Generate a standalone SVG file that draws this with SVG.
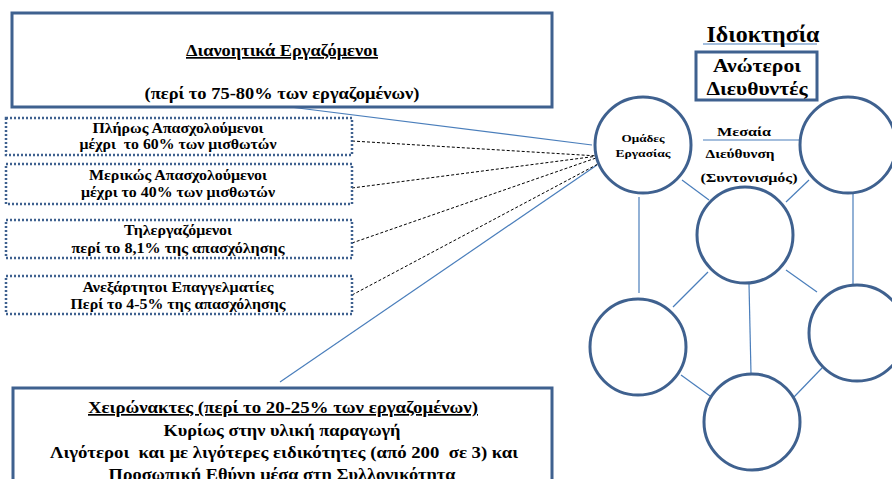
<svg xmlns="http://www.w3.org/2000/svg" width="892" height="479" viewBox="0 0 892 479">
<style>
text{font-family:"Liberation Serif","Times New Roman",serif;font-weight:bold;fill:#000;text-anchor:middle;white-space:pre}
.box{fill:#fff;stroke:#3f618f;stroke-width:3}
.dot{fill:#fff;stroke:#3f618f;stroke-width:2.5;stroke-dasharray:2 2}
.circ{fill:#fff;stroke:#3f618f;stroke-width:3}
.thin{stroke:#4a7ebb;stroke-width:1.2;fill:none}
.dash{stroke:#000;stroke-width:1;stroke-dasharray:3 2;fill:none}
.u{text-decoration:underline}
</style>
<g id="connectors">
<line class="thin" x1="290" y1="107" x2="592" y2="145"/>
<line class="thin" x1="280" y1="382" x2="597" y2="165"/>
<line class="dash" x1="352" y1="141" x2="598" y2="156"/>
<line class="dash" x1="352" y1="188" x2="598" y2="156"/>
<line class="dash" x1="352" y1="243" x2="596" y2="158"/>
<line class="dash" x1="352" y1="295" x2="598" y2="164"/>
<line class="thin" x1="703" y1="44" x2="817" y2="44"/>
<line class="thin" x1="703" y1="140" x2="801" y2="140"/>
<line class="thin" x1="639" y1="197" x2="639" y2="293"/>
<line class="thin" x1="682" y1="180" x2="709" y2="200"/>
<line class="thin" x1="786" y1="202" x2="809" y2="180"/>
<line class="thin" x1="853" y1="194" x2="853" y2="285"/>
<line class="thin" x1="708" y1="272" x2="673" y2="307"/>
<line class="thin" x1="786" y1="270" x2="817" y2="292"/>
<line class="thin" x1="749" y1="284" x2="751" y2="374"/>
<line class="thin" x1="681" y1="375" x2="710" y2="396"/>
<line class="thin" x1="822" y1="368" x2="794" y2="397"/>
</g>
<g id="top-box">
<rect class="box" x="12" y="13" width="540" height="94"/>
<text x="282" y="56" font-size="17" class="u" textLength="192" lengthAdjust="spacingAndGlyphs">Διανοητικά Εργαζόμενοι</text>
<text x="282" y="99" font-size="17" textLength="275" lengthAdjust="spacingAndGlyphs">(περί το 75-80% των εργαζομένων)</text>
</g>
<g id="full-time">
<rect class="dot" x="6" y="118" width="346" height="37"/>
<text x="178" y="133" font-size="14" textLength="171" lengthAdjust="spacingAndGlyphs">Πλήρως Απασχολούμενοι</text>
<text x="178" y="149" font-size="14" textLength="197" lengthAdjust="spacingAndGlyphs">μέχρι  το 60% των μισθωτών</text>
</g>
<g id="part-time">
<rect class="dot" x="6" y="164" width="346" height="40"/>
<text x="178" y="180" font-size="14" textLength="178" lengthAdjust="spacingAndGlyphs">Μερικώς Απασχολούμενοι</text>
<text x="178" y="197" font-size="14" textLength="194" lengthAdjust="spacingAndGlyphs">μέχρι το 40% των μισθωτών</text>
</g>
<g id="teleworkers">
<rect class="dot" x="6" y="220" width="346" height="38"/>
<text x="178" y="235" font-size="14" textLength="108" lengthAdjust="spacingAndGlyphs">Τηλεργαζόμενοι</text>
<text x="178" y="253" font-size="14" textLength="213" lengthAdjust="spacingAndGlyphs">περί το 8,1% της απασχόλησης</text>
</g>
<g id="freelancers">
<rect class="dot" x="6" y="276" width="346" height="38"/>
<text x="178" y="292" font-size="14" textLength="191" lengthAdjust="spacingAndGlyphs">Ανεξάρτητοι Επαγγελματίες</text>
<text x="178" y="309" font-size="14" textLength="215" lengthAdjust="spacingAndGlyphs">Περί το 4-5% της απασχόλησης</text>
</g>
<g id="bottom-box">
<rect class="box" x="13" y="388" width="539" height="100"/>
<text x="283" y="413" font-size="17" class="u" textLength="390" lengthAdjust="spacingAndGlyphs">Χειρώνακτες (περί το 20-25% των εργαζομένων)</text>
<text x="282" y="436" font-size="17" textLength="237" lengthAdjust="spacingAndGlyphs">Κυρίως στην υλική παραγωγή</text>
<text x="284" y="458" font-size="17" textLength="468" lengthAdjust="spacingAndGlyphs">Λιγότεροι  και με λιγότερες ειδικότητες (από 200  σε 3) και</text>
<text x="282" y="480" font-size="17" textLength="347" lengthAdjust="spacingAndGlyphs">Προσωπική Εθύνη μέσα στη Συλλογικότητα</text>
</g>
<g id="ownership">
<text x="763" y="42" font-size="23" textLength="113" lengthAdjust="spacingAndGlyphs">Ιδιοκτησία</text>
</g>
<g id="senior-managers">
<rect class="box" x="696" y="52" width="121" height="48"/>
<text x="757" y="72" font-size="19" textLength="88" lengthAdjust="spacingAndGlyphs">Ανώτεροι</text>
<text x="757" y="95" font-size="19" textLength="101" lengthAdjust="spacingAndGlyphs">Διευθυντές</text>
</g>
<g id="middle-management">
<text x="744" y="136" font-size="13" textLength="54" lengthAdjust="spacingAndGlyphs">Μεσαία</text>
<text x="740" y="158" font-size="13" textLength="69" lengthAdjust="spacingAndGlyphs">Διεύθυνση</text>
<text x="749" y="182" font-size="13" textLength="97" lengthAdjust="spacingAndGlyphs">(Συντονισμός)</text>
</g>
<g id="work-teams">
<circle class="circ" cx="643" cy="145" r="48"/>
<text x="643" y="142" font-size="11" textLength="43" lengthAdjust="spacingAndGlyphs">Ομάδες</text>
<text x="643" y="157" font-size="11" textLength="55" lengthAdjust="spacingAndGlyphs">Εργασίας</text>
</g>
<g id="circle-top-right"><circle class="circ" cx="848" cy="145" r="48"/></g>
<g id="circle-middle"><circle class="circ" cx="745" cy="235" r="48"/></g>
<g id="circle-left"><circle class="circ" cx="638" cy="347" r="48"/></g>
<g id="circle-right"><circle class="circ" cx="857" cy="333" r="48"/></g>
<g id="circle-bottom"><circle class="circ" cx="752" cy="422" r="48"/></g>
</svg>
